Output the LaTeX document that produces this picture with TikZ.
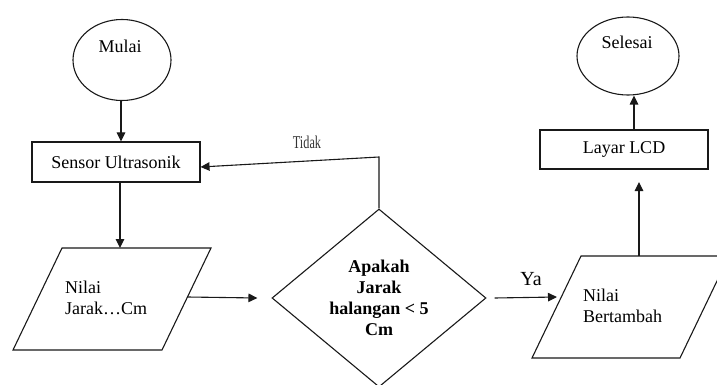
\documentclass[tikz,border=0pt]{standalone}
\usepackage{fontspec}
\setmainfont{Liberation Serif}
\usetikzlibrary{shapes.geometric,arrows.meta,calc}
\begin{document}
\begin{tikzpicture}[x=1pt,y=-1pt,
  line/.style={draw=black!90, line width=1.1pt},
  arr/.style={line, -{Triangle[length=9pt,width=8.5pt]}},
  txt/.style={font=\fontsize{18}{21}\selectfont, inner sep=0pt, align=left},
  term/.style={line, ellipse, inner sep=0pt},
  procbox/.style={line, rectangle, minimum width=168pt, inner sep=0pt, font=\fontsize{18}{21}\selectfont},
  decision/.style={line, diamond, aspect=1.2, inner sep=0pt, minimum width=214pt, minimum height=178pt, align=center, font=\fontsize{18}{21}\selectfont\bfseries}]
\useasboundingbox (0,0) rectangle (717,385);
\clip (0,0) rectangle (717,385);

% Start
\node[term, minimum width=98pt, minimum height=81pt] (mulai) at (122,60) {};
\node[txt] (mulaitxt) at (120,46) {Mulai};

% Sensor
\node[procbox, minimum height=40pt] (sensor) at (116,162) {Sensor Ultrasonik};

% Parallelogram 1
\coordinate (p1a) at (62,248);
\coordinate (p1b) at (211,248);
\coordinate (p1c) at (162,350);
\coordinate (p1d) at (13,350);
\draw[line] (p1a) -- (p1b) -- (p1c) -- (p1d) -- cycle;
\node[txt, anchor=west] (nilai1) at (65,298) {Nilai\\Jarak…Cm};
\coordinate (p1top) at (120,248);
\coordinate (p1right) at (187.5,297);

% Decision
\node[decision] (dec) at (379,298) {Apakah\\Jarak\\halangan < 5\\Cm};

% Parallelogram 2
\coordinate (p2a) at (581,256);
\coordinate (p2b) at (729,256);
\coordinate (p2c) at (680,358);
\coordinate (p2d) at (532,358);
\draw[line] (p2a) -- (p2b) -- (p2c) -- (p2d) -- cycle;
\node[txt, anchor=west] (nilai2) at (583,306) {Nilai\\Bertambah};
\coordinate (p2top) at (639,256);
\coordinate (p2left) at (557,297);

% LCD
\node[procbox, minimum height=39pt] (lcd) at (624,149.5) {Layar LCD};

% End
\node[term, minimum width=102pt, minimum height=78pt] (selesai) at (628,56) {};
\node[txt] (selesaitxt) at (627,42) {Selesai};

% Connectors
\draw[arr] (mulai.south -| 121,0) -- (sensor.north -| 121,0);
\draw[arr] (sensor.south -| 120,0) -- (p1top);
\draw[arr] (p1right) -- ([xshift=-14pt]dec.west);
\draw[arr] (dec.north) -- (379,157) -- ([yshift=-5pt]sensor.east);
\node[font=\fontsize{18}{20}\selectfont, text=black!80, xscale=0.68, inner sep=0pt] (tidak) at (307,142) {Tidak};
\draw[arr] ([xshift=8pt]dec.east) -- (p2left);
\node[font=\fontsize{20}{22}\selectfont, inner sep=0pt] (ya) at (531,279) {Ya};
\draw[arr] (p2top) -- (639,182);
\draw[arr] (lcd.north -| 634,0) -- (selesai.south -| 634,0);
\end{tikzpicture}
\end{document}
